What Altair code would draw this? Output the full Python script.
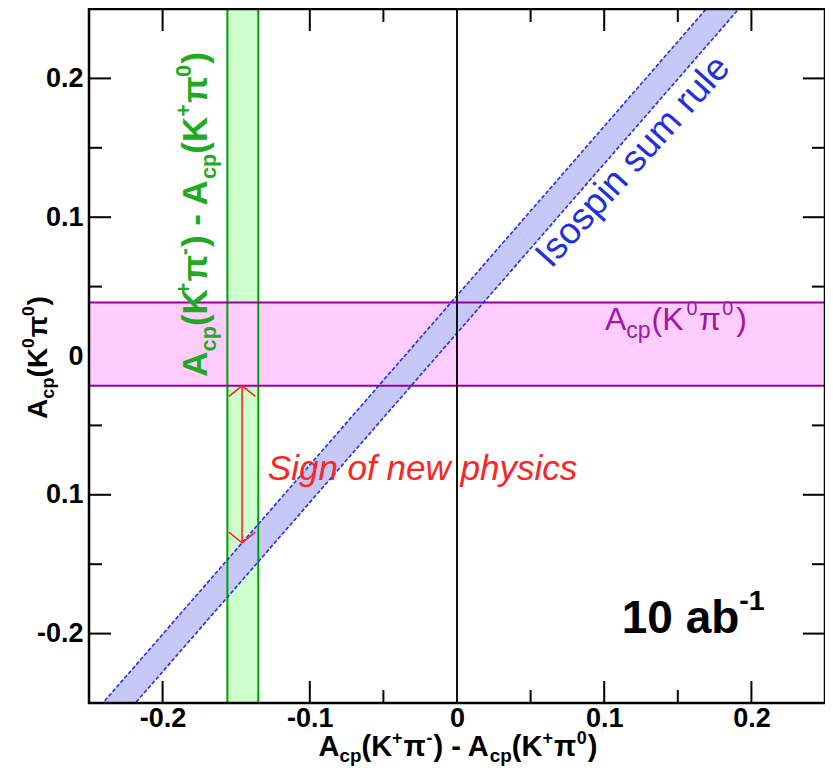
import altair as alt
import pandas as pd

# ---------------- data ----------------
x_ticks_major = [-0.2, -0.1, 0.0, 0.1, 0.2]
x_ticks_minor = [-0.15, -0.05, 0.05, 0.15]
y_ticks_major = [-0.2, -0.1, 0.0, 0.1, 0.2]
y_ticks_minor = [-0.15, -0.05, 0.05, 0.15]

kpi_band = [-0.156, -0.135]      # Acp(K+pi-) - Acp(K+pi0) band (x range)
k0pi0_band = [-0.0215, 0.0385]   # Acp(K0pi0) band (y range)

iso_x = [-0.25, 0.21]            # isospin sum rule band
iso_low = [-0.2885, 0.2727]
iso_high = [-0.2615, 0.2997]

arrow_x = [-0.146]               # "sign of new physics" arrow
arrow_top = [-0.0215]
arrow_bottom = [-0.1346]

zero_line = [0.0]

# ---------------- setup ----------------
W, H = 736, 694
FONT = "Liberation Sans"

xs = alt.Scale(domain=[-0.25, 0.25], nice=False, zero=False)
ys = alt.Scale(domain=[-0.25, 0.25], nice=False, zero=False)

x_axis = alt.Axis(values=x_ticks_major, title=None, grid=False, domain=False, ticks=False,
                  tickSize=0, labelPadding=2, labelFont=FONT, labelFontSize=27,
                  labelFontWeight="bold", labelColor="black", labelFlush=False,
                  labelOverlap=False,
                  labelExpr="(datum.value < 0 ? '-' : '') + format(abs(datum.value), '.1~f')")
y_axis = alt.Axis(values=y_ticks_major, title=None, grid=False, domain=False, ticks=False,
                  tickSize=0, labelPadding=6, labelFont=FONT, labelFontSize=27,
                  labelFontWeight="bold", labelColor="black", labelFlush=False,
                  labelOverlap=False,
                  labelExpr="datum.value == -0.1 ? '0.1' : (datum.value < 0 ? '-' : '') + format(abs(datum.value), '.1~f')")


def X(f):
    return alt.X(f"{f}:Q", scale=xs, axis=x_axis)


def Y(f):
    return alt.Y(f"{f}:Q", scale=ys, axis=y_axis)


REG = {' ': .278, '(': .333, ')': .333, '+': .584, '-': .333, '.': .278,
       'A': .667, 'K': .667, 'S': .667, 'I': .278, 'a': .556, 'b': .556, 'c': .5,
       'e': .556, 'f': .278, 'g': .556, 'h': .556, 'i': .222, 'l': .222, 'm': .833,
       'n': .556, 'o': .556, 'p': .556, 'r': .333, 's': .5, 'u': .556, 'w': .722,
       'y': .5, 'π': .64}
BOLD = {' ': .278, '(': .333, ')': .333, '+': .584, '-': .333, '.': .278,
        'A': .722, 'K': .722, 'a': .556, 'b': .611, 'c': .556, 'p': .611, 'π': .72}


def text_width(s, size, bold):
    t = BOLD if bold else REG
    return sum(t.get(ch, .556) for ch in s) * size


def rich(pieces, x, y, size, color, angle=0, bold=False, italic=False,
         sub=0.65, sup=0.62, rise=0.47, drop=0.25, pixel=False, middle=False):
    items = []
    off = 0.0
    for txt, kind, gap in pieces:
        if kind == "n":
            s, dy = size, 0.0
        elif kind == "sub":
            s, dy = size * sub, size * drop
        else:
            s, dy = size * sup, -size * rise
        items.append((txt, s, off, dy))
        off += text_width(txt, s, bold) + gap
    shift = -off / 2 if middle else 0.0
    layers = []
    for txt, s, dx, dy in items:
        df = pd.DataFrame({"x": [x], "y": [y], "t": [txt]})
        m = alt.Chart(df).mark_text(
            align="left", baseline="alphabetic", dx=round(dx + shift, 2), dy=round(dy, 2),
            angle=angle, font=FONT, fontSize=round(s, 2),
            fontWeight="bold" if bold else "normal",
            fontStyle="italic" if italic else "normal", color=color)
        if pixel:
            enc = dict(x=alt.value(x), y=alt.value(y), text="t:N")
        else:
            enc = dict(x=X("x"), y=Y("y"), text="t:N")
        layers.append(m.encode(**enc))
    return layers


layers = []

# ---- ticks (inward, all four sides) ----
for vals, ln in ((x_ticks_major, 22), (x_ticks_minor, 13)):
    df = pd.DataFrame({"v": vals})
    layers.append(alt.Chart(df).mark_rule(color="black", strokeWidth=2).encode(
        x=X("v"), y=alt.value(H), y2=alt.value(H - ln)))
    layers.append(alt.Chart(df).mark_rule(color="black", strokeWidth=2).encode(
        x=X("v"), y=alt.value(0), y2=alt.value(ln)))
for vals, ln in ((y_ticks_major, 22), (y_ticks_minor, 13)):
    df = pd.DataFrame({"v": vals})
    layers.append(alt.Chart(df).mark_rule(color="black", strokeWidth=2).encode(
        y=Y("v"), x=alt.value(0), x2=alt.value(ln)))
    layers.append(alt.Chart(df).mark_rule(color="black", strokeWidth=2).encode(
        y=Y("v"), x=alt.value(W), x2=alt.value(W - ln)))

# ---- band fills ----
layers.append(alt.Chart(pd.DataFrame({"lo": [kpi_band[0]], "hi": [kpi_band[1]]}))
              .mark_rect(color="#ccffcc").encode(x=X("lo"), x2="hi", y=alt.value(0), y2=alt.value(H)))
layers.append(alt.Chart(pd.DataFrame({"lo": [k0pi0_band[0]], "hi": [k0pi0_band[1]]}))
              .mark_rect(color="#ffccff").encode(y=Y("lo"), y2="hi", x=alt.value(0), x2=alt.value(W)))
iso_df = pd.DataFrame({"x": iso_x, "lo": iso_low, "hi": iso_high})
layers.append(alt.Chart(iso_df).mark_area(color="#c6c8f8", clip=True).encode(
    x=X("x"), y=Y("lo"), y2="hi"))

# ---- band edges ----
layers.append(alt.Chart(pd.DataFrame({"v": kpi_band})).mark_rule(color="#00a000", strokeWidth=2)
              .encode(x=X("v"), y=alt.value(0), y2=alt.value(H)))
layers.append(alt.Chart(pd.DataFrame({"v": k0pi0_band})).mark_rule(color="#990099", strokeWidth=2)
              .encode(y=Y("v"), x=alt.value(0), x2=alt.value(W)))
edge_df = pd.DataFrame({"x": iso_x + iso_x, "y": iso_low + iso_high,
                        "edge": ["low"] * len(iso_x) + ["high"] * len(iso_x)})
layers.append(alt.Chart(edge_df).mark_line(color="#1f2ff0", strokeWidth=1.6, strokeDash=[4, 2], clip=True)
              .encode(x=X("x"), y=Y("y"), detail="edge:N"))

# ---- zero line ----
layers.append(alt.Chart(pd.DataFrame({"v": zero_line})).mark_rule(color="#111111", strokeWidth=2)
              .encode(x=X("v"), y=alt.value(0), y2=alt.value(H)))

# ---- arrow ----
arr_df = pd.DataFrame({"x": arrow_x, "top": arrow_top, "bottom": arrow_bottom})
layers.append(alt.Chart(arr_df).mark_rule(color="#ff2020", strokeWidth=1.6)
              .encode(x=X("x"), y=Y("top"), y2="bottom"))
layers.append(alt.Chart(arr_df).mark_point(shape="M-1,0.8L0,0L1,0.8", filled=False, size=700,
                                           color="#ff2020", strokeWidth=1.6, opacity=1)
              .encode(x=X("x"), y=Y("top")))
layers.append(alt.Chart(arr_df).mark_point(shape="M-1,-0.8L0,0L1,-0.8", filled=False, size=700,
                                           color="#ff2020", strokeWidth=1.6, opacity=1)
              .encode(x=X("x"), y=Y("bottom")))

# ---- annotations ----
layers += rich([("A", "n", 0), ("cp", "sub", 0), ("(K", "n", -6), ("+", "sup", 1), ("π", "n", 1),
                ("-", "sup", 1), (") - A", "n", 0), ("cp", "sub", 0), ("(K", "n", 0),
                ("+", "sup", 1), ("π", "n", 1), ("0", "sup", 1), (")", "n", 0)],
               -0.1698, -0.0149, 35, "#1faa1f", angle=270, bold=True, sub=0.62)
layers += rich([("A", "n", 0), ("cp", "sub", 1), ("(K", "n", 3), ("0", "sup", 1), ("π", "n", 3),
                ("0", "sup", 3), (")", "n", 0)],
               0.1005, 0.0187, 32, "#a0189f", sub=0.72)
layers += rich([("Sign of new physics", "n", 0)], -0.1285, -0.0893, 35, "#ff2424", italic=True)
layers += rich([("Isospin sum rule", "n", 0)], 0.0640, 0.0625, 37, "#2030e0", angle=312)
layers += rich([("10 ab", "n", 0), ("-1", "sup", 0)], 0.1119, -0.1998, 46, "black", bold=True,
               sup=0.62, rise=0.5)

# axis titles (rich text, pixel positioned)
layers += rich([("A", "n", 0), ("cp", "sub", 0), ("(K", "n", 0), ("+", "sup", 1), ("π", "n", 2),
                ("-", "sup", 1), (") - A", "n", 0), ("cp", "sub", 0), ("(K", "n", 0),
                ("+", "sup", 1), ("π", "n", 2), ("0", "sup", 1), (")", "n", 0)],
               369, 747, 29, "black", bold=True, pixel=True, middle=True, rise=0.42, drop=0.2)
layers += rich([("A", "n", 0), ("cp", "sub", 0), ("(K", "n", 0), ("0", "sup", 1), ("π", "n", 1),
                ("0", "sup", 1), (")", "n", 0)],
               -42, 348.5, 28, "black", angle=270, bold=True, pixel=True, middle=True)

# ---- frame ----
layers.append(alt.Chart(pd.DataFrame({"a": [0]})).mark_rect(fillOpacity=0, stroke="black", strokeWidth=2.5)
              .encode(x=alt.value(0), x2=alt.value(W), y=alt.value(0), y2=alt.value(H)))

chart = alt.layer(*layers).properties(
    width=W, height=H,
    padding={"left": 81, "top": 1, "right": 0, "bottom": 67},
    autosize=alt.AutoSizeParams(type="none"),
).configure_view(stroke=None)

chart.save("out.html", embed_options={"renderer": "svg", "actions": False})
